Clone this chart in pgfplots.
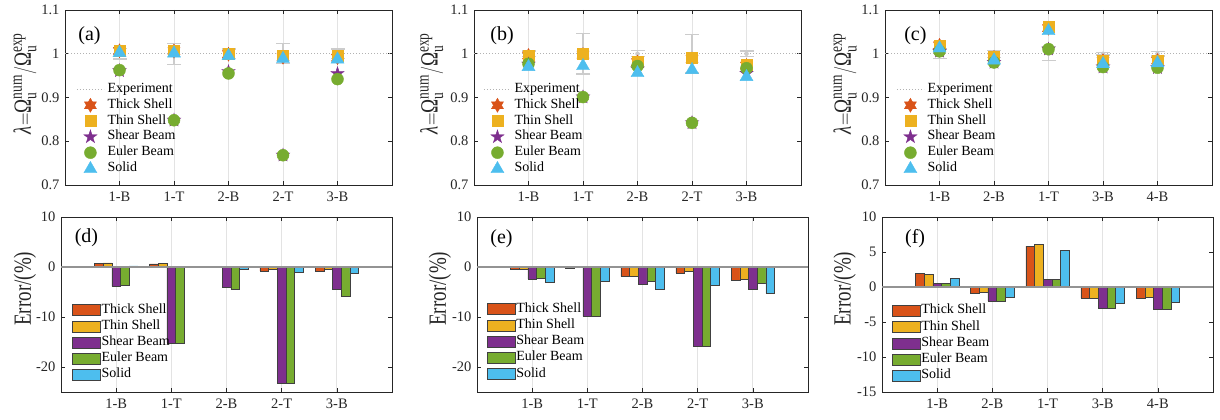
\documentclass[border=0pt]{standalone}
\usepackage{fontspec}
\setmainfont{Liberation Serif}
\usepackage{pgfplots}
\usepackage{pgfplotstable}
\pgfplotsset{compat=1.18}

\definecolor{cThick}{HTML}{D95319}
\definecolor{cThin}{HTML}{EDB120}
\definecolor{cShear}{HTML}{7E2F8E}
\definecolor{cEuler}{HTML}{77AC30}
\definecolor{cSolid}{HTML}{4DBEEE}
\definecolor{axcol}{HTML}{262626}

% filled six- and five-pointed stars
\pgfdeclareplotmark{hexagram}{%
  \pgfpathmoveto{\pgfpointpolar{90}{\pgfplotmarksize}}%
  \pgfpathlineto{\pgfpointpolar{120}{0.577\pgfplotmarksize}}%
  \pgfpathlineto{\pgfpointpolar{150}{\pgfplotmarksize}}%
  \pgfpathlineto{\pgfpointpolar{180}{0.577\pgfplotmarksize}}%
  \pgfpathlineto{\pgfpointpolar{210}{\pgfplotmarksize}}%
  \pgfpathlineto{\pgfpointpolar{240}{0.577\pgfplotmarksize}}%
  \pgfpathlineto{\pgfpointpolar{270}{\pgfplotmarksize}}%
  \pgfpathlineto{\pgfpointpolar{300}{0.577\pgfplotmarksize}}%
  \pgfpathlineto{\pgfpointpolar{330}{\pgfplotmarksize}}%
  \pgfpathlineto{\pgfpointpolar{0}{0.577\pgfplotmarksize}}%
  \pgfpathlineto{\pgfpointpolar{30}{\pgfplotmarksize}}%
  \pgfpathlineto{\pgfpointpolar{60}{0.577\pgfplotmarksize}}%
  \pgfpathclose\pgfusepathqfillstroke}
\pgfdeclareplotmark{pentagram}{%
  \pgfpathmoveto{\pgfpointpolar{90}{\pgfplotmarksize}}%
  \pgfpathlineto{\pgfpointpolar{126}{0.382\pgfplotmarksize}}%
  \pgfpathlineto{\pgfpointpolar{162}{\pgfplotmarksize}}%
  \pgfpathlineto{\pgfpointpolar{198}{0.382\pgfplotmarksize}}%
  \pgfpathlineto{\pgfpointpolar{234}{\pgfplotmarksize}}%
  \pgfpathlineto{\pgfpointpolar{270}{0.382\pgfplotmarksize}}%
  \pgfpathlineto{\pgfpointpolar{306}{\pgfplotmarksize}}%
  \pgfpathlineto{\pgfpointpolar{342}{0.382\pgfplotmarksize}}%
  \pgfpathlineto{\pgfpointpolar{18}{\pgfplotmarksize}}%
  \pgfpathlineto{\pgfpointpolar{54}{0.382\pgfplotmarksize}}%
  \pgfpathclose\pgfusepathqfillstroke}

% lambda = num/exp, top row
\pgfplotstableread{
x e d thick thin shear euler solid
1 1 0.012 1.0067 1.008 0.961 0.9625 1.002
2 1 0.024 1.006 1.0075 0.848 0.848 1.001
3 1 0.011 0.999 0.9995 0.959 0.955 0.995
4 1 0.023 0.992 0.9955 0.768 0.768 0.9885
5 1 0.011 0.991 0.9955 0.9545 0.942 0.987
}\lamA
\pgfplotstableread{
x e d thick thin shear euler solid
1 1 0.006 0.996 0.996 0.976 0.977 0.970
2 1 0.046 0.998 0.9995 0.901 0.901 0.972
3 1 0.007 0.981 0.982 0.965 0.972 0.956
4 1 0.044 0.988 0.992 0.842 0.842 0.963
5 1 0.006 0.973 0.976 0.955 0.967 0.947
}\lamB
\pgfplotstableread{
x e d thick thin shear euler solid
1 1 0.011 1.019 1.018 1.0055 1.0055 1.0125
2 1 0.008 0.9915 0.9925 0.980 0.980 0.985
3 1 0.016 1.0585 1.061 1.0105 1.0105 1.052
4 1 0.003 0.984 0.984 0.9695 0.9695 0.9765
5 1 0.005 0.9845 0.985 0.968 0.968 0.9785
}\lamC

% errors in %, bottom row
\pgfplotstableread{
x thick thin shear euler solid
1 0.67 0.8 -3.9 -3.75 0.2
2 0.6 0.75 -15.2 -15.2 0.1
3 -0.1 -0.05 -4.1 -4.5 -0.5
4 -0.8 -0.45 -23.2 -23.2 -1.15
5 -0.9 -0.45 -4.55 -5.8 -1.3
}\errD
\pgfplotstableread{
x thick thin shear euler solid
1 -0.4 -0.4 -2.4 -2.3 -3.0
2 -0.2 -0.05 -9.9 -9.9 -2.8
3 -1.9 -1.8 -3.5 -2.8 -4.4
4 -1.2 -0.8 -15.8 -15.8 -3.7
5 -2.7 -2.4 -4.5 -3.3 -5.3
}\errE
\pgfplotstableread{
x thick thin shear euler solid
1 1.9 1.8 0.55 0.55 1.25
2 -0.85 -0.75 -2.0 -2.0 -1.5
3 5.85 6.1 1.05 1.05 5.2
4 -1.6 -1.6 -3.05 -3.05 -2.35
5 -1.55 -1.5 -3.2 -3.2 -2.15
}\errF

\newcommand{\sfx}[1]{\mbox{\fontsize{13.5}{14}\selectfont #1}}
\newcommand{\lamlab}{$\mbox{\itshape λ}{=}\mbox{Ω}_{\sfx{u}}^{\sfx{num}}/\mbox{Ω}_{\sfx{u}}^{\sfx{exp}}$}

\tikzset{panlab/.style={font=\fontsize{20}{22}\selectfont, anchor=center}}

\pgfplotsset{
  base/.style={
    scale only axis, height=175pt,
    xmin=0, xmax=6, xtick={1,2,3,4,5},
    tick align=inside, major tick length=4pt,
    axis line style={axcol, line width=0.6pt},
    tick style={axcol, line width=0.6pt},
    xmajorgrids, grid style={gray!22, line width=0.9pt},
    ticklabel style={font=\fontsize{14.5}{16}\selectfont, text=axcol},
    /pgf/number format/assume math mode=true,
    xticklabel style={yshift=-3pt},
    yticklabel style={xshift=-2pt},
    ylabel style={font=\fontsize{19}{21}\selectfont, text=axcol, anchor=center, yscale=1.3},
    legend cell align=left,
  },
  topax/.style={base, width=327pt,
    ymin=0.7, ymax=1.1, ytick={0.7,0.8,0.9,1,1.1},
    ylabel={\lamlab},
    legend style={draw=none, fill=none, font=\fontsize{14}{16}\selectfont,
      anchor=north west, inner sep=0pt, row sep=1.8pt,
      nodes={inner xsep=3pt, inner ysep=0pt, text height=10pt, text depth=4pt}},
    legend image code/.code={\draw[mark repeat=2,mark phase=2,##1] plot coordinates {(0pt,0pt) (13.5pt,0pt) (27pt,0pt)};},
  },
  botax/.style={base, width=331pt,
    ylabel={Error/(\%)},
    legend style={draw=none, fill=none, font=\fontsize{14}{16}\selectfont,
      anchor=north west, inner sep=0pt, row sep=2.2pt,
      nodes={inner xsep=1pt, inner ysep=0pt, text height=10pt, text depth=4pt}},
    legend image code/.code={\draw[##1] (0pt,-5.5pt) rectangle (28pt,5.5pt);},
  },
  errbar/.style={only marks, mark=none, forget plot, gray!40,
    error bars/.cd, y dir=both, y explicit,
    error bar style={draw=gray!40, line width=1.3pt},
    error mark options={rotate=90, draw=gray!40, line width=1.3pt, mark size=7pt}},
  expline/.style={gray!60, line width=1.2pt, dash pattern=on 1.2pt off 1.8pt},
  mThick/.style={only marks, mark=hexagram, mark size=7pt, mark options={solid, fill=cThick, draw=cThick}},
  mThin/.style={only marks, mark=square*, mark size=5.5pt, mark options={solid, fill=cThin, draw=cThin}},
  mShear/.style={only marks, mark=pentagram, mark size=7pt, mark options={solid, fill=cShear, draw=cShear}},
  mEuler/.style={only marks, mark=*, mark size=6pt, mark options={solid, fill=cEuler, draw=cEuler}},
  mSolid/.style={only marks, mark=triangle*, mark size=7.5pt, mark options={solid, fill=cSolid, draw=cSolid}},
  bx/.style={ybar, bar width=8.7pt, draw=black!75, line width=0.5pt},
  bThick/.style={bx, bar shift=-17.4pt, fill=cThick},
  bThin/.style={bx, bar shift=-8.7pt, fill=cThin},
  bShear/.style={bx, bar shift=0pt, fill=cShear},
  bEuler/.style={bx, bar shift=8.7pt, fill=cEuler},
  bSolid/.style={bx, bar shift=17.4pt, fill=cSolid},
  zline/.style={forget plot, gray!85, line width=1.3pt},
}

\begin{document}
\begin{tikzpicture}
\path[use as bounding box] (0pt,0pt) rectangle (1220pt,420pt);

% (a)
\begin{axis}[topax, at={(65pt,235pt)}, xticklabels={1-B,1-T,2-B,2-T,3-B},
  ylabel style={at={(axis description cs:-0.122,0.58)}},
  legend style={at={(0.034,0.587)}}]
\addplot[errbar] table[x=x,y=e,y error=d]{\lamA};
\addplot[expline] coordinates {(0,1) (6,1)};
\addlegendentry{Experiment}
\addplot[mThick] table[x=x,y=thick]{\lamA};
\addlegendentry{Thick Shell}
\addplot[mThin] table[x=x,y=thin]{\lamA};
\addlegendentry{Thin Shell}
\addplot[mShear] table[x=x,y=shear]{\lamA};
\addlegendentry{Shear Beam}
\addplot[mEuler] table[x=x,y=euler]{\lamA};
\addlegendentry{Euler Beam}
\addplot[mSolid] table[x=x,y=solid]{\lamA};
\addlegendentry{Solid}
\node[panlab] at (axis description cs:0.075,0.851) {(a)};
\end{axis}

% (b)
\begin{axis}[topax, at={(474pt,235pt)}, xticklabels={1-B,1-T,2-B,2-T,3-B},
  ylabel style={at={(axis description cs:-0.129,0.58)}},
  legend style={at={(0.028,0.587)}}]
\addplot[errbar] table[x=x,y=e,y error=d]{\lamB};
\addplot[expline] coordinates {(0,1) (6,1)};
\addlegendentry{Experiment}
\addplot[mThick] table[x=x,y=thick]{\lamB};
\addlegendentry{Thick Shell}
\addplot[mThin] table[x=x,y=thin]{\lamB};
\addlegendentry{Thin Shell}
\addplot[mShear] table[x=x,y=shear]{\lamB};
\addlegendentry{Shear Beam}
\addplot[mEuler] table[x=x,y=euler]{\lamB};
\addlegendentry{Euler Beam}
\addplot[mSolid] table[x=x,y=solid]{\lamB};
\addlegendentry{Solid}
\node[panlab] at (axis description cs:0.086,0.851) {(b)};
\end{axis}

% (c)
\begin{axis}[topax, at={(885pt,235pt)}, xticklabels={1-B,2-B,1-T,3-B,4-B},
  ylabel style={at={(axis description cs:-0.122,0.58)}},
  legend style={at={(0.034,0.587)}}]
\addplot[errbar] table[x=x,y=e,y error=d]{\lamC};
\addplot[expline] coordinates {(0,1) (6,1)};
\addlegendentry{Experiment}
\addplot[mThick] table[x=x,y=thick]{\lamC};
\addlegendentry{Thick Shell}
\addplot[mThin] table[x=x,y=thin]{\lamC};
\addlegendentry{Thin Shell}
\addplot[mShear] table[x=x,y=shear]{\lamC};
\addlegendentry{Shear Beam}
\addplot[mEuler] table[x=x,y=euler]{\lamC};
\addlegendentry{Euler Beam}
\addplot[mSolid] table[x=x,y=solid]{\lamC};
\addlegendentry{Solid}
\node[panlab] at (axis description cs:0.093,0.851) {(c)};
\end{axis}

% (d)
\begin{axis}[botax, at={(61pt,28pt)}, xticklabels={1-B,1-T,2-B,2-T,3-B},
  ymin=-25, ymax=10, ytick={-20,-10,0,10},
  ylabel style={at={(axis description cs:-0.109,0.59)}},
  legend style={at={(0.033,0.509)}}]
\addplot[bThick] table[x=x,y=thick]{\errD};
\addlegendentry{Thick Shell}
\addplot[bThin] table[x=x,y=thin]{\errD};
\addlegendentry{Thin Shell}
\addplot[bShear] table[x=x,y=shear]{\errD};
\addlegendentry{Shear Beam}
\addplot[bEuler] table[x=x,y=euler]{\errD};
\addlegendentry{Euler Beam}
\addplot[bSolid] table[x=x,y=solid]{\errD};
\addlegendentry{Solid}
\addplot[zline] coordinates {(0,0) (6,0)};
\node[panlab] at (axis description cs:0.077,0.88) {(d)};
\end{axis}

% (e)
\begin{axis}[botax, at={(477pt,28pt)}, xticklabels={1-B,1-T,2-B,2-T,3-B},
  ymin=-25, ymax=10, ytick={-20,-10,0,10},
  ylabel style={at={(axis description cs:-0.112,0.59)}},
  legend style={at={(0.029,0.514)}}]
\addplot[bThick] table[x=x,y=thick]{\errE};
\addlegendentry{Thick Shell}
\addplot[bThin] table[x=x,y=thin]{\errE};
\addlegendentry{Thin Shell}
\addplot[bShear] table[x=x,y=shear]{\errE};
\addlegendentry{Shear Beam}
\addplot[bEuler] table[x=x,y=euler]{\errE};
\addlegendentry{Euler Beam}
\addplot[bSolid] table[x=x,y=solid]{\errE};
\addlegendentry{Solid}
\addplot[zline] coordinates {(0,0) (6,0)};
\node[panlab] at (axis description cs:0.074,0.877) {(e)};
\end{axis}

% (f)
\begin{axis}[botax, at={(882pt,28pt)}, xticklabels={1-B,2-B,1-T,3-B,4-B},
  ymin=-15, ymax=10, ytick={-15,-10,-5,0,5,10},
  ylabel style={at={(axis description cs:-0.113,0.59)}},
  legend style={at={(0.029,0.504)}}]
\addplot[bThick] table[x=x,y=thick]{\errF};
\addlegendentry{Thick Shell}
\addplot[bThin] table[x=x,y=thin]{\errF};
\addlegendentry{Thin Shell}
\addplot[bShear] table[x=x,y=shear]{\errF};
\addlegendentry{Shear Beam}
\addplot[bEuler] table[x=x,y=euler]{\errF};
\addlegendentry{Euler Beam}
\addplot[bSolid] table[x=x,y=solid]{\errF};
\addlegendentry{Solid}
\addplot[zline] coordinates {(0,0) (6,0)};
\node[panlab] at (axis description cs:0.1,0.878) {(f)};
\end{axis}
\end{tikzpicture}
\end{document}
